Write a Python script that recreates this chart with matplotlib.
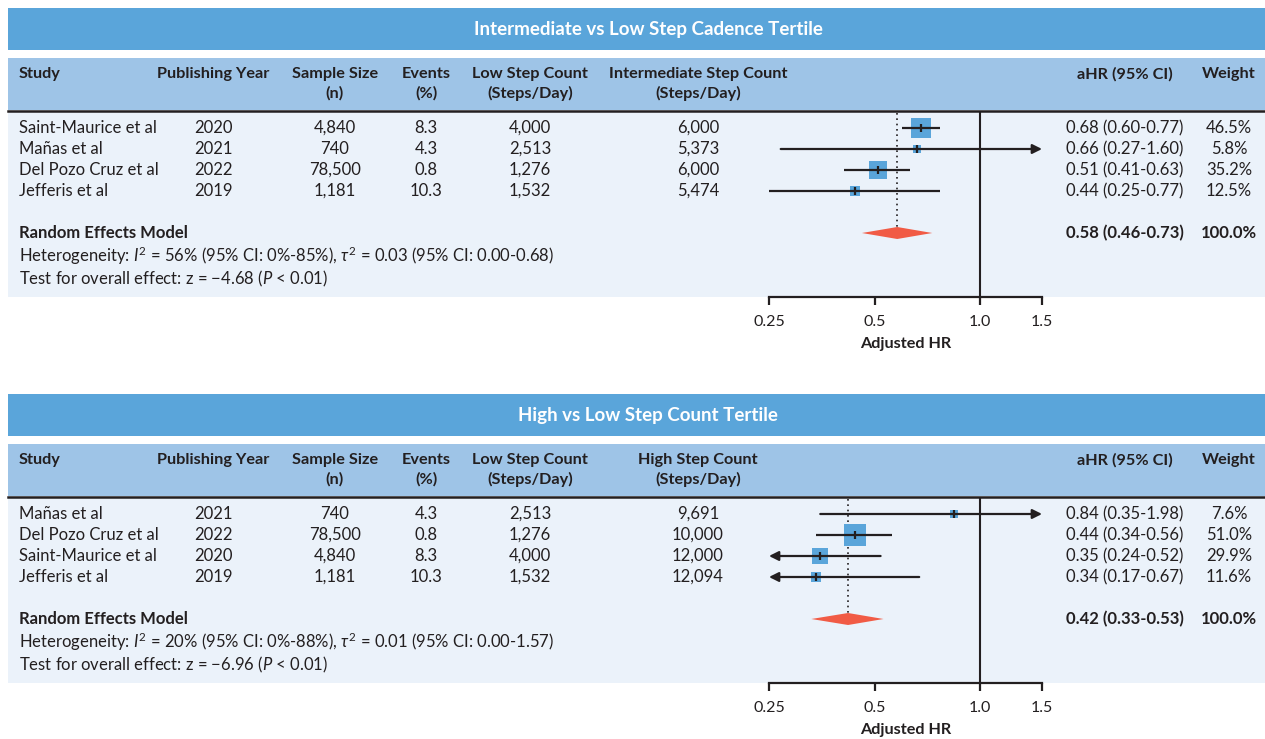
import numpy as np
import matplotlib.pyplot as plt
from matplotlib.patches import Rectangle

plt.rcParams['font.family'] = ['Lato', 'DejaVu Sans']
plt.rcParams['mathtext.fontset'] = 'custom'
plt.rcParams['mathtext.rm'] = 'Lato'
plt.rcParams['mathtext.it'] = 'Lato:italic'

# ── Datos: Intermediate vs Low ───────────────────────────────────────────────
studies1 = ['Saint-Maurice et al', 'Mañas et al', 'Del Pozo Cruz et al', 'Jefferis et al']
years1 = [2020, 2021, 2022, 2019]
n1 = [4840, 740, 78500, 1181]
events1 = [8.3, 4.3, 0.8, 10.3]
low1 = [4000, 2513, 1276, 1532]
comp1 = [6000, 5373, 6000, 5474]
hr1 = [0.68, 0.66, 0.51, 0.44]
lo1 = [0.60, 0.27, 0.41, 0.25]
hi1 = [0.77, 1.60, 0.63, 0.77]
w1 = [46.5, 5.8, 35.2, 12.5]
pooled1 = [0.58, 0.46, 0.73]
het1 = r'Heterogeneity: $I^2$ = 56% (95% CI: 0%-85%), $\tau^2$ = 0.03 (95% CI: 0.00-0.68)'
test1 = r'Test for overall effect: z = −4.68 ($P$ < 0.01)'

# ── Datos: High vs Low ───────────────────────────────────────────────────────
studies2 = ['Mañas et al', 'Del Pozo Cruz et al', 'Saint-Maurice et al', 'Jefferis et al']
years2 = [2021, 2022, 2020, 2019]
n2 = [740, 78500, 4840, 1181]
events2 = [4.3, 0.8, 8.3, 10.3]
low2 = [2513, 1276, 4000, 1532]
comp2 = [9691, 10000, 12000, 12094]
hr2 = [0.84, 0.44, 0.35, 0.34]
lo2 = [0.35, 0.34, 0.24, 0.17]
hi2 = [1.98, 0.56, 0.52, 0.67]
w2 = [7.6, 51.0, 29.9, 11.6]
pooled2 = [0.42, 0.33, 0.53]
het2 = r'Heterogeneity: $I^2$ = 20% (95% CI: 0%-88%), $\tau^2$ = 0.01 (95% CI: 0.00-1.57)'
test2 = r'Test for overall effect: z = −6.96 ($P$ < 0.01)'

ticks = [0.25, 0.5, 1.0, 1.5]
XMIN, XMAX = 0.25, 1.5

# ── Estilo ───────────────────────────────────────────────────────────────────
W, H = 1265, 739
BANNER = '#5AA5DA'
HEADER = '#9EC4E7'
BODY = '#EBF2FA'
INK = '#231F20'
SQUARE = '#5AA5DA'
DIAMOND = '#F15B45'
FS = 12
FSH = 11.7

fig = plt.figure(figsize=(W / 100, H / 100), dpi=100)
bg = fig.add_axes([0, 0, 1, 1])
bg.set_xlim(0, W)
bg.set_ylim(H, 0)
bg.axis('off')

cols = {'year': 213, 'n': 335, 'ev': 426, 'low': 530, 'comp': 698, 'ahr': 1125, 'w': 1229}


def panel(off, title, comp_head, studies, years, n, events, low, comp,
          hr, lo, hi, w, pooled, het, test):
    # Bandas de fondo
    bg.add_patch(Rectangle((8, off + 8), W - 8, 42, color=BANNER, lw=0))
    bg.add_patch(Rectangle((8, off + 58), W - 8, 52, color=HEADER, lw=0))
    bg.add_patch(Rectangle((8, off + 111), W - 8, 186, color=BODY, lw=0))
    bg.plot([8, W], [off + 110.5, off + 110.5], color=INK, lw=1.8)

    bg.text(648, off + 29, title, color='white', fontsize=13.5,
            fontweight='bold', ha='center', va='center')

    # Cabecera
    hy1, hy2 = off + 74, off + 93
    hk = dict(fontsize=FSH, fontweight='bold', color=INK, va='center')
    bg.text(19, hy1, 'Study', ha='left', **hk)
    bg.text(cols['year'], hy1, 'Publishing Year', ha='center', **hk)
    bg.text(cols['n'], hy1, 'Sample Size', ha='center', **hk)
    bg.text(cols['n'], hy2, '(n)', ha='center', **hk)
    bg.text(cols['ev'], hy1, 'Events', ha='center', **hk)
    bg.text(cols['ev'], hy2, '(%)', ha='center', **hk)
    bg.text(cols['low'], hy1, 'Low Step Count', ha='center', **hk)
    bg.text(cols['low'], hy2, '(Steps/Day)', ha='center', **hk)
    bg.text(cols['comp'], hy1, comp_head, ha='center', **hk)
    bg.text(cols['comp'], hy2, '(Steps/Day)', ha='center', **hk)
    bg.text(cols['ahr'], hy1, 'aHR (95% CI)', ha='center', **hk)
    bg.text(cols['w'], hy1, 'Weight', ha='center', **hk)

    # Filas de estudios
    row0, dy = off + 128, 21
    rk = dict(fontsize=FS, color=INK, va='center')
    for i in range(len(studies)):
        y = row0 + i * dy
        bg.text(19, y, studies[i], ha='left', **rk)
        bg.text(cols['year'], y, str(years[i]), ha='center', **rk)
        bg.text(cols['n'], y, f'{n[i]:,}', ha='center', **rk)
        bg.text(cols['ev'], y, f'{events[i]}', ha='center', **rk)
        bg.text(cols['low'], y, f'{low[i]:,}', ha='center', **rk)
        bg.text(cols['comp'], y, f'{comp[i]:,}', ha='center', **rk)
        bg.text(cols['ahr'], y, f'{hr[i]:.2f} ({lo[i]:.2f}-{hi[i]:.2f})', ha='center', **rk)
        bg.text(cols['w'], y, f'{w[i]:.1f}%', ha='center', **rk)

    yp = row0 + 5 * dy
    bg.text(19, yp, 'Random Effects Model', ha='left', fontweight='bold', **rk)
    bg.text(cols['ahr'], yp, f'{pooled[0]:.2f} ({pooled[1]:.2f}-{pooled[2]:.2f})',
            ha='center', fontweight='bold', **rk)
    bg.text(cols['w'], yp, '100.0%', ha='center', fontweight='bold', **rk)
    bg.text(19, off + 256, het, ha='left', **rk)
    bg.text(19, off + 279, test, ha='left', **rk)

    # Forest plot (escala log)
    x0, x1 = 769, 1042
    top, bot = off + 111, off + 297
    ax = fig.add_axes([x0 / W, 1 - bot / H, (x1 - x0) / W, (bot - top) / H])
    ax.patch.set_alpha(0)
    ax.set_xscale('log', base=2)
    ax.set_xlim(XMIN, XMAX)
    ax.set_ylim((bot - row0) / dy, (top - row0) / dy)
    for s in ['top', 'left', 'right']:
        ax.spines[s].set_visible(False)
    ax.spines['bottom'].set_color(INK)
    ax.spines['bottom'].set_linewidth(1.6)
    ax.set_yticks([])
    ax.set_xticks(ticks)
    ax.set_xticklabels(['0.25', '0.5', '1.0', '1.5'])
    ax.xaxis.set_minor_locator(plt.NullLocator())
    ax.tick_params(axis='x', direction='out', length=6, width=1.6, color=INK,
                   labelsize=11.5, labelcolor=INK, pad=7)
    ax.set_xlabel('Adjusted HR', fontsize=FSH, fontweight='bold', color=INK, labelpad=6)

    ax.axvline(1.0, color=INK, lw=1.5, zorder=1)
    ax.vlines(pooled[0], (top - row0) / dy + 0.1, 5, color=INK, lw=1.2,
              linestyles=(0, (1, 2.2)), zorder=1)

    for i in range(len(hr)):
        side = 3.05 * np.sqrt(w[i]) * 0.72
        ax.scatter(hr[i], i, marker='s', s=side ** 2, color=SQUARE, lw=0, zorder=2)
        a, b = max(lo[i], XMIN), min(hi[i], XMAX)
        ak = dict(arrowstyle='-|>', color=INK, lw=1.6, mutation_scale=14,
                  shrinkA=0, shrinkB=0)
        if hi[i] > XMAX:
            ax.annotate('', xy=(b, i), xytext=(a, i), arrowprops=ak, zorder=3)
        elif lo[i] < XMIN:
            ax.annotate('', xy=(a, i), xytext=(b, i), arrowprops=ak, zorder=3)
        else:
            ax.plot([a, b], [i, i], color=INK, lw=1.6, zorder=3, solid_capstyle='butt')
        ax.plot(hr[i], i, marker='|', ms=6, mew=1.6, color=INK, zorder=4)

    p, pl, ph = pooled
    h = 6 / dy
    ax.fill([pl, p, ph, p], [5, 5 - h, 5, 5 + h], color=DIAMOND, lw=0, zorder=2)


panel(0, 'Intermediate vs Low Step Cadence Tertile', 'Intermediate Step Count',
      studies1, years1, n1, events1, low1, comp1, hr1, lo1, hi1, w1, pooled1, het1, test1)
panel(386, 'High vs Low Step Count Tertile', 'High Step Count',
      studies2, years2, n2, events2, low2, comp2, hr2, lo2, hi2, w2, pooled2, het2, test2)

plt.savefig('out.png', dpi=100)
